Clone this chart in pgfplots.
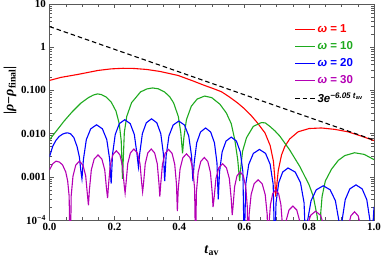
\documentclass[border=0pt]{standalone}
\usepackage{fontspec}
\setmainfont{Liberation Serif}
\newfontfamily\legfont{Liberation Sans}
\usepackage{pgfplots}
\pgfplotsset{compat=1.18}
\definecolor{mred}{RGB}{255,0,0}
\definecolor{mgreen}{RGB}{30,170,30}
\definecolor{mblue}{RGB}{0,0,255}
\definecolor{mmag}{RGB}{180,0,180}
\begin{document}
\begin{tikzpicture}
\begin{axis}[
  scale only axis, width=324.5pt, height=216pt,
  xmin=0, xmax=1, ymode=log, ymin=1e-4, ymax=10,
  xtick={0,0.2,0.4,0.6,0.8,1}, xticklabels={0.0,0.2,0.4,0.6,0.8,1.0},
  minor x tick num=3,
  ytick={1e-4,0.001,0.01,0.1,1,10},
  yticklabels={10\textsuperscript{−4},0.001,0.010,0.100,1,10},
  tick label style={font=\bfseries\fontsize{11}{13}\selectfont},
  axis line style={black!65}, every tick/.style={black!65},
  xlabel={\textbf{\textit{t}\textsubscript{av}}},
  xlabel style={font=\fontsize{14}{16}\selectfont, at={(axis description cs:0.5,-0.1435)}, anchor=center},
  ylabel={\textbf{|\textit{ρ}−\textit{ρ}\textsubscript{final}|}},
  ylabel style={font=\fontsize{14}{16}\selectfont, at={(axis description cs:-0.1217,0.6)}, anchor=center},
  legend cell align=left,
  legend style={draw=none, fill=none, at={(rel axis cs:0.745,0.925)}, anchor=north west,
    font=\legfont\bfseries\fontsize{11.5}{13}\selectfont, row sep=3.5pt},
  legend image code/.code={\draw[#1] (0pt,0pt) -- (20pt,0pt);},
  every axis plot/.append style={line width=1.1pt},
]
\addplot[mred] coordinates {
(0.000,0.170)(0.035,0.200)(0.087,0.234)(0.150,0.290)(0.190,0.315)(0.226,0.325)
(0.260,0.322)(0.300,0.305)(0.340,0.275)(0.396,0.222)(0.440,0.168)(0.478,0.130)
(0.505,0.110)(0.530,0.093)(0.555,0.070)(0.580,0.051)(0.600,0.038)(0.620,0.027)
(0.640,0.018)(0.664,0.0104)(0.680,0.0053)(0.690,0.0023)(0.694,0.0010)(0.697,0.00035)
(0.700,0.0006)(0.705,0.0014)(0.715,0.0032)(0.725,0.0050)(0.740,0.0075)(0.766,0.0110)
(0.800,0.0131)(0.838,0.0135)(0.880,0.0125)(0.920,0.0110)(0.960,0.0088)(1.000,0.0069)
};
\addlegendentry{\textcolor{mred}{\textit{ω} = 1}}
\addplot[mgreen] coordinates {
(0.000,0.0072)(0.020,0.0112)(0.045,0.0195)(0.070,0.032)(0.097,0.051)(0.120,0.068)
(0.135,0.078)(0.148,0.083)(0.160,0.080)(0.175,0.070)(0.190,0.054)(0.205,0.033)
(0.215,0.0168)(0.221,0.0068)(0.225,0.0009)
(0.2306,0.0107)(0.238,0.0249)(0.2528,0.0518)(0.2805,0.0922)(0.300,0.108)(0.3175,0.114)
(0.335,0.109)(0.3545,0.0922)(0.370,0.072)(0.3823,0.0518)(0.397,0.0249)(0.4045,0.0107)(0.410,0.0035)
(0.414,0.008)(0.422,0.021)(0.437,0.043)(0.455,0.063)(0.478,0.074)(0.500,0.068)
(0.525,0.048)(0.545,0.030)(0.560,0.017)(0.571,0.0072)(0.580,0.0025)(0.586,0.0008)
(0.590,0.0018)(0.595,0.0039)(0.607,0.0080)(0.628,0.0147)(0.653,0.0180)(0.665,0.0177)
(0.680,0.0145)(0.695,0.0115)(0.710,0.0087)(0.740,0.0042)(0.772,0.0017)(0.800,0.00065)
(0.813,0.00035)(0.825,0.00012)(0.833,0.00001)
(0.836,0.00015)(0.840,0.00035)(0.850,0.0008)(0.869,0.0015)(0.890,0.0024)(0.910,0.0031)
(0.940,0.0036)(0.970,0.0033)(1.000,0.0025)
};
\addlegendentry{\textcolor{mgreen}{\textit{ω} = 10}}
\addplot[mblue] coordinates {
(0.000,0.0029)(0.010,0.0051)(0.020,0.0070)(0.030,0.0086)(0.040,0.0097)(0.050,0.0103)
(0.056,0.0104)(0.065,0.0099)(0.075,0.0081)(0.085,0.0050)(0.092,0.0029)(0.0965,0.0014)(0.100,0.0009)
(0.1045,0.0025)(0.1135,0.00726)(0.127,0.0129)(0.145,0.016)(0.163,0.0129)(0.1765,0.00726)(0.1855,0.0025)(0.190,0.0007)
(0.1942,0.00328)(0.2026,0.00953)(0.2152,0.0170)(0.232,0.021)(0.2488,0.0170)(0.2614,0.00953)(0.2698,0.00328)(0.274,0.0017)
(0.278,0.00343)(0.2862,0.00999)(0.2983,0.0178)(0.3145,0.022)(0.3307,0.0178)(0.3429,0.00999)(0.3509,0.00343)(0.355,0.0008)
(0.3594,0.00304)(0.3681,0.00885)(0.3811,0.0158)(0.3985,0.0195)(0.4159,0.0158)(0.4290,0.00885)(0.4377,0.00304)(0.442,0.0008)
(0.4459,0.00211)(0.4537,0.00613)(0.4654,0.0109)(0.481,0.0135)(0.4966,0.0109)(0.5083,0.00613)(0.5161,0.00211)(0.520,0.0003)
(0.524,0.0013)(0.532,0.00377)(0.544,0.00671)(0.560,0.0083)(0.576,0.00671)(0.588,0.00377)(0.596,0.0013)(0.600,0.00002)
(0.6047,0.00067)(0.6141,0.00195)(0.6282,0.00348)(0.647,0.0043)(0.6658,0.00348)(0.6799,0.00195)(0.6893,0.00067)(0.694,0.00002)
(0.6981,0.00025)(0.7063,0.00073)(0.7186,0.00129)(0.735,0.0016)(0.757,0.00129)(0.7735,0.00073)(0.7845,0.00025)(0.790,0.00002)
(0.7954,0.000097)(0.806,0.00028)(0.8221,0.0005)(0.8435,0.00062)(0.8649,0.0005)(0.881,0.00028)(0.8917,0.000097)(0.897,0.00002)
(0.9018,0.0001)(0.9113,0.000295)(0.9255,0.000526)(0.9445,0.00065)(0.9635,0.000526)(0.9778,0.000295)(0.9873,0.0001)(0.992,0.00002)
(1.000,0.0002)
};
\addlegendentry{\textcolor{mblue}{\textit{ω} = 20}}
\addplot[mmag] coordinates {
(0.000,0.00145)(0.010,0.0020)(0.020,0.0023)(0.030,0.0022)(0.040,0.0019)(0.050,0.0013)(0.056,0.0008)(0.0605,0.00036)(0.064,0.00001)
(0.0668,0.00036)(0.0724,0.00104)(0.0808,0.00186)(0.092,0.0023)(0.1032,0.00186)(0.1116,0.00104)(0.1172,0.00036)(0.120,0.00022)
(0.123,0.0005)(0.1289,0.00145)(0.1377,0.00259)(0.1495,0.0032)(0.1613,0.00259)(0.1702,0.00145)(0.176,0.0005)(0.179,0.00032)
(0.1817,0.00062)(0.1871,0.00182)(0.1952,0.00324)(0.206,0.004)(0.2168,0.00324)(0.2249,0.00182)(0.2303,0.00062)(0.233,0.00042)
(0.2357,0.00069)(0.2411,0.0020)(0.2492,0.00356)(0.260,0.0044)(0.2708,0.00356)(0.2789,0.0020)(0.2843,0.00069)(0.287,0.00045)
(0.2897,0.00069)(0.2950,0.0020)(0.3029,0.00356)(0.3135,0.0044)(0.3241,0.00356)(0.3321,0.0020)(0.3374,0.00069)(0.340,0.00035)
(0.3427,0.00067)(0.3481,0.00195)(0.3562,0.00348)(0.367,0.0043)(0.3778,0.00348)(0.3859,0.00195)(0.3913,0.00067)(0.394,0.00016)
(0.3968,0.00053)(0.4024,0.00154)(0.4108,0.00275)(0.422,0.0034)(0.4332,0.00275)(0.4416,0.00154)(0.4472,0.00053)(0.450,0.00002)
(0.4527,0.00044)(0.4581,0.00127)(0.4662,0.00227)(0.477,0.0028)(0.4878,0.00227)(0.4959,0.00127)(0.5013,0.00044)(0.504,0.0002)
(0.507,0.00031)(0.5129,0.00091)(0.5217,0.00162)(0.5335,0.0020)(0.5453,0.00162)(0.5542,0.00091)(0.560,0.00031)(0.563,0.00013)
(0.5655,0.0002)(0.5704,0.00059)(0.5777,0.00105)(0.5875,0.0013)(0.5973,0.00105)(0.6047,0.00059)(0.6096,0.0002)(0.612,0.00001)
(0.6151,0.000133)(0.6213,0.000386)(0.6306,0.00069)(0.643,0.00085)(0.6554,0.00069)(0.6647,0.000386)(0.6709,0.000133)(0.674,0.00001)
(0.6763,0.000078)(0.6809,0.000227)(0.6878,0.000405)(0.697,0.0005)(0.7062,0.000405)(0.7131,0.000227)(0.7177,0.000078)(0.720,0.00001)
(0.723,0.000033)(0.729,0.000095)(0.738,0.00017)(0.750,0.00021)(0.762,0.00017)(0.771,0.000095)(0.777,0.000033)(0.780,0.00001)
(0.7867,0.000025)(0.794,0.000073)(0.805,0.000129)(0.820,0.00016)(0.835,0.000129)(0.846,0.000073)(0.8533,0.000025)(0.857,0.00001)
(0.885,0.00006)(0.912,0.00001)
(0.9148,0.000024)(0.9204,0.00007)(0.9288,0.000125)(0.940,0.000155)(0.9512,0.000125)(0.9596,0.00007)(0.9652,0.000024)(0.968,0.00001)
(0.985,0.00006)(1.000,0.00005)
};
\addlegendentry{\textcolor{mmag}{\textit{ω} = 30}}
\addplot[black, dash pattern=on 4.5pt off 3pt] coordinates {(0,3)(0.5,0.14567)(1,0.0070737)};
\addlegendentry{\textit{3e}\textsuperscript{\textit{−6.05 t}\textsubscript{av}}}
\end{axis}
\pgfresetboundingbox
\path[use as bounding box] (-49.5pt,-39pt) rectangle (332.5pt,220pt);
\end{tikzpicture}
\end{document}
